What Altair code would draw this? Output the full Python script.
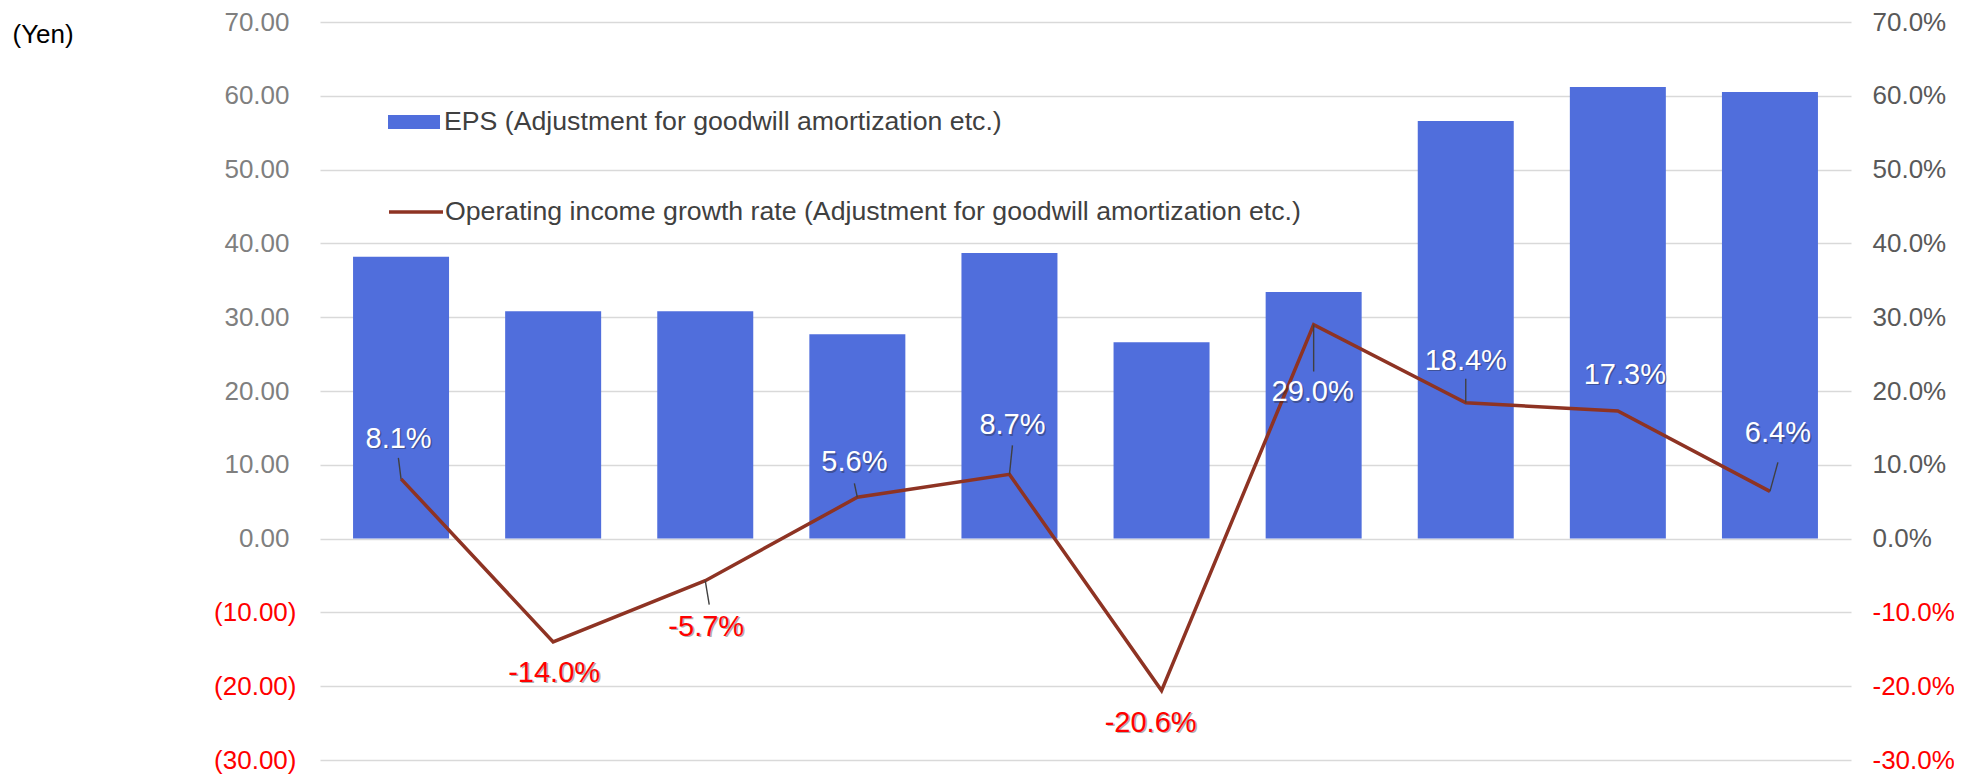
import altair as alt
import pandas as pd

# ---- data ----
period_index = [0, 1, 2, 3, 4, 5, 6, 7, 8, 9]
eps_yen = [38.2, 30.8, 30.8, 27.7, 38.7, 26.6, 33.4, 56.6, 61.2, 60.5]
op_income_growth = [8.1, -14.0, -5.7, 5.6, 8.7, -20.6, 29.0, 18.4, 17.3, 6.4]
bar_series_name = "EPS (Adjustment for goodwill amortization etc.)"
line_series_name = "Operating income growth rate (Adjustment for goodwill amortization etc.)"
axis_ticks = [-30, -20, -10, 0, 10, 20, 30, 40, 50, 60, 70]

# ---- layout of the data labels (pixel offsets from each line point) ----
label_dx_px = [-2.5, 1, 1, -3, 3, -11, -1, 0, 7, 8]
label_dy_px = [-40, 31, 46, -35, -49, 32, 68, -42, -36, -58]
leader_dx_px = [-2.7, None, 4, -3, 3, None, 0, 0, None, 8]
leader_dy_px = [-21, None, 24, -14, -29, None, 47, -24, None, -29]

# ---- styles ----
FONT = "Liberation Sans"
BAR = "#506EDC"
LINE = "#8E3323"
W, H = 1531, 739
PX_X = W / 10.0     # pixels per category
PX_Y = H / 100.0    # pixels per unit on the y scales

df = pd.DataFrame({
    "idx": period_index,
    "eps": eps_yen,
    "growth": op_income_growth,
})
df["bar_series"] = bar_series_name
df["line_series"] = line_series_name
df["label"] = [("-" if v < 0 else "") + f"{abs(v):.1f}%" for v in op_income_growth]
df["label_color"] = ["#FF0000" if v < 0 else "#FFFFFF" for v in op_income_growth]
df["tx"] = df["idx"] + pd.Series(label_dx_px) / PX_X
df["ty"] = df["growth"] - pd.Series(label_dy_px) / PX_Y

lead = pd.DataFrame({
    "idx": period_index,
    "growth": op_income_growth,
    "ldx": leader_dx_px,
    "ldy": leader_dy_px,
}).dropna()
lead["lx"] = lead["idx"] + lead["ldx"] / PX_X
lead["ly"] = lead["growth"] - lead["ldy"] / PX_Y

xscale = alt.Scale(domain=[-0.5, 9.5], nice=False, zero=False)
yscale = alt.Scale(domain=[-30, 70], nice=False, zero=False)

left_axis = alt.Axis(
    orient="left",
    values=axis_ticks,
    labelExpr="datum.value < 0 ? '(' + format(-datum.value, '.2f') + ')' : format(datum.value, '.2f')",
    labelColor={"condition": {"test": "datum.value < 0", "value": "#FF0000"}, "value": "#7F7F7F"},
    labelPadding={"condition": {"test": "datum.value < 0", "value": 24}, "value": 31},
    labelFontSize=26, labelFont=FONT,
    grid=True, gridColor="#D9D9D9", gridWidth=1.5,
    domain=False, ticks=False,
    title="(Yen)", titleAngle=0, titleAlign="left", titleBaseline="middle",
    titleX=-308, titleY=12, titleFontSize=26, titleFont=FONT,
    titleFontWeight="normal", titleColor="#000000",
)

right_axis = alt.Axis(
    orient="right",
    values=axis_ticks,
    labelExpr="(datum.value < 0 ? '-' : '') + format(abs(datum.value), '.1f') + '%'",
    labelColor={"condition": {"test": "datum.value < 0", "value": "#FF0000"}, "value": "#595959"},
    labelPadding=21, labelFontSize=26, labelFont=FONT, labelAlign="left",
    grid=False, domain=False, ticks=False, title=None,
)

X = alt.X("idx:Q", scale=xscale, axis=None)

bars = alt.Chart(df).mark_bar(size=96).encode(
    x=X,
    y=alt.Y("eps:Q", scale=yscale, axis=left_axis),
    fill=alt.Fill("bar_series:N", scale=alt.Scale(range=[BAR]),
                  legend=alt.Legend(orient="none", legendX=68, legendY=74, title=None,
                                    symbolType="M-1,-0.27H1V0.27H-1Z", symbolSize=2704,
                                    symbolStrokeWidth=0, labelFontSize=26.7, labelFont=FONT,
                                    labelColor="#404040", labelOffset=4, padding=0,
                                    labelLimit=0)),
)

line = alt.Chart(df).mark_line(strokeWidth=3.5).encode(
    x=X,
    y=alt.Y("growth:Q", scale=yscale, axis=right_axis),
    stroke=alt.Stroke("line_series:N", scale=alt.Scale(range=[LINE]),
                      legend=alt.Legend(orient="none", legendX=67, legendY=161, title=None,
                                        symbolType="stroke", symbolSize=2916,
                                        symbolStrokeWidth=3.5, labelFontSize=26.7, labelFont=FONT,
                                        labelColor="#404040", labelOffset=0, padding=0,
                                        labelLimit=0)),
)

leaders = alt.Chart(lead).mark_rule(color="#404040", strokeWidth=1.4).encode(
    x=X,
    y=alt.Y("growth:Q", scale=yscale, axis=None),
    x2="lx:Q",
    y2="ly:Q",
)

shadow = alt.Chart(df).mark_text(
    font=FONT, fontSize=29, dx=1.5, dy=1.5, color="#202020", opacity=0.35,
    align="center", baseline="middle",
).encode(
    x=alt.X("tx:Q", scale=xscale, axis=None),
    y=alt.Y("ty:Q", scale=yscale, axis=None),
    text="label:N",
)

labels = alt.Chart(df).mark_text(
    font=FONT, fontSize=29, align="center", baseline="middle",
).encode(
    x=alt.X("tx:Q", scale=xscale, axis=None),
    y=alt.Y("ty:Q", scale=yscale, axis=None),
    text="label:N",
    color=alt.Color("label_color:N", scale=None),
)

chart = alt.layer(bars, line, leaders, shadow, labels).resolve_scale(
    y="independent", fill="independent", stroke="independent"
).properties(
    width=W, height=H - 1,
    autosize=alt.AutoSizeParams(type="none"),
    padding={"left": 312, "top": 14, "right": 103, "bottom": 16},
    background="white",
).configure_view(stroke=None)

chart.save("out.html", embed_options={"renderer": "svg", "actions": False})
